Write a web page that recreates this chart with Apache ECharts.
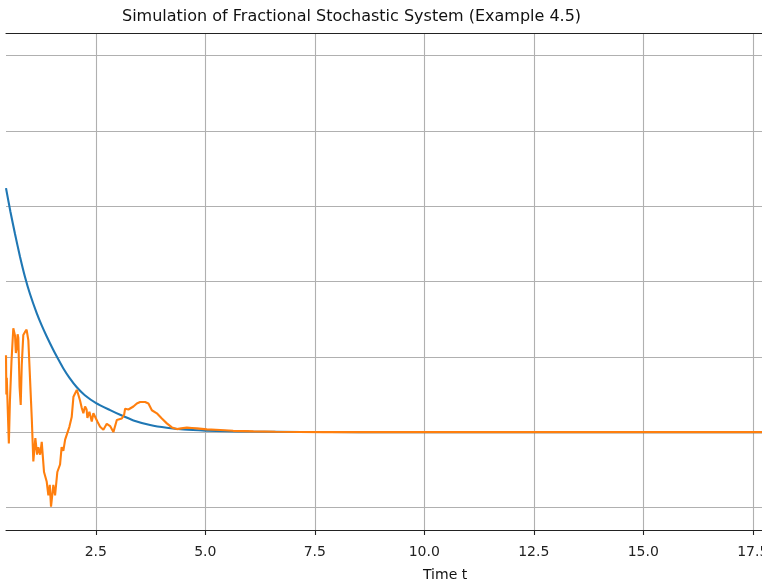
<!DOCTYPE html>
<html>
<head>
<meta charset="utf-8" />
<title>Simulation of Fractional Stochastic System</title>
<script src="https://cdn.jsdelivr.net/npm/echarts@6/dist/echarts.min.js"></script>
<style>
  html, body { margin: 0; padding: 0; background: #fff; overflow: hidden; }
  #chart { width: 762px; height: 588px; }
</style>
</head>
<body>
<div id="chart"></div>
<script>
// visible time window of the (cropped) figure and tick step
const xRange = [0.45, 17.71];
const xStep = 2.5;
const yRange = [-1.3, 5.3];

// deterministic solution [t, x(t)]
const detPath = [
  [0.45, 3.24], [0.55, 2.93], [0.656, 2.63], [0.77, 2.33], [0.884, 2.06],
  [1.0, 1.83], [1.151, 1.58], [1.27, 1.41], [1.38, 1.27], [1.531, 1.09],
  [1.65, 0.96], [1.76, 0.845], [1.9, 0.72], [2.066, 0.595], [2.25, 0.49],
  [2.507, 0.385], [2.827, 0.292], [3.055, 0.23], [3.36, 0.155], [3.74, 0.095],
  [4.12, 0.058], [4.5, 0.035], [5.0, 0.02], [5.5, 0.013], [6.0, 0.008],
  [7.2, 0.002], [8.5, 0], [20, 0]
];

// stochastic sample path [t, x(t)]
const stochPath = [
  [0.45, 1.02], [0.458, 0.5], [0.468, 0.72], [0.49, 0.3], [0.515, -0.15],
  [0.54, 0.42], [0.576, 0.95], [0.617, 1.38], [0.656, 1.28], [0.675, 1.05],
  [0.695, 1.12], [0.715, 1.3], [0.731, 1.25], [0.76, 0.6], [0.786, 0.36],
  [0.81, 0.9], [0.845, 1.29], [0.884, 1.33], [0.92, 1.36], [0.96, 1.22],
  [1.0, 0.69], [1.04, 0.16], [1.074, -0.39], [1.12, -0.08], [1.16, -0.3],
  [1.188, -0.2], [1.23, -0.3], [1.266, -0.13], [1.318, -0.53], [1.38, -0.66],
  [1.417, -0.84], [1.45, -0.7], [1.478, -0.99], [1.531, -0.7], [1.57, -0.84],
  [1.622, -0.53], [1.684, -0.43], [1.72, -0.2], [1.759, -0.25], [1.8, -0.1],
  [1.837, -0.08], [1.897, 0.07], [1.95, 0.2], [1.99, 0.47], [2.027, 0.49],
  [2.066, 0.56], [2.1, 0.5], [2.14, 0.42], [2.18, 0.32], [2.216, 0.25],
  [2.255, 0.34], [2.29, 0.3], [2.308, 0.19], [2.354, 0.27], [2.408, 0.14],
  [2.445, 0.25], [2.484, 0.27], [2.536, 0.14], [2.598, 0.07], [2.673, 0.03],
  [2.712, 0.05], [2.751, 0.11], [2.827, 0.08], [2.902, 0.0], [2.98, 0.16],
  [3.094, 0.18], [3.147, 0.23], [3.169, 0.31], [3.245, 0.3], [3.284, 0.29],
  [3.359, 0.34], [3.437, 0.38], [3.512, 0.4], [3.551, 0.39], [3.626, 0.4],
  [3.702, 0.38], [3.78, 0.29], [3.894, 0.25], [4.008, 0.18], [4.122, 0.116],
  [4.237, 0.062], [4.351, 0.04], [4.45, 0.05], [4.579, 0.06], [4.694, 0.055],
  [4.808, 0.049], [5.036, 0.036], [5.34, 0.027], [5.637, 0.017], [6.1, 0.01],
  [6.6, 0.004], [7.7, 0], [20, 0]
];

const chart = echarts.init(document.getElementById('chart'));
const font = 'DejaVu Sans';

const option = {
  animation: false,
  title: {
    text: 'Simulation of Fractional Stochastic System (Example 4.5)',
    left: 122,
    top: 9,
    padding: 0,
    textStyle: { fontFamily: font, fontSize: 16, fontWeight: 'normal', color: '#111' }
  },
  grid: { left: 6, right: 0, top: 33, bottom: 58, outerBoundsMode: 'none', containLabel: false },
  xAxis: [{
    type: 'value',
    min: xRange[0],
    max: xRange[1],
    minInterval: xStep,
    maxInterval: xStep,
    axisLine: { onZero: false, lineStyle: { color: '#222', width: 1.1 } },
    axisTick: { show: true, length: 5, lineStyle: { color: '#222', width: 1.1 } },
    axisLabel: {
      margin: 15,
      showMinLabel: false,
      showMaxLabel: false,
      hideOverlap: false,
      fontFamily: font, fontSize: 14, color: '#222',
      formatter: function (v) { return v.toFixed(1); }
    },
    splitLine: { show: true, showMinLine: false, showMaxLine: false, lineStyle: { color: '#b0b0b0', width: 1.1 } }
  }, {
    // top spine
    type: 'value',
    position: 'top',
    min: xRange[0],
    max: xRange[1],
    axisLine: { onZero: false, lineStyle: { color: '#222', width: 1.1 } },
    axisTick: { show: false },
    axisLabel: { show: false },
    splitLine: { show: false }
  }],
  yAxis: {
    type: 'value',
    min: yRange[0],
    max: yRange[1],
    minInterval: 1,
    maxInterval: 1,
    axisLine: { show: false },
    axisTick: { show: false },
    axisLabel: { show: false },
    splitLine: { show: true, showMinLine: false, showMaxLine: false, lineStyle: { color: '#b0b0b0', width: 1.1 } }
  },
  graphic: [{
    type: 'text',
    left: 423,
    top: 568,
    style: { text: 'Time t', x: 0, y: 0, align: 'center', fontFamily: font, fontSize: 14, fill: '#111' }
  }],
  series: [{
    name: 'Deterministic',
    type: 'line',
    data: detPath,
    showSymbol: false,
    smooth: 0.2,
    lineStyle: { color: '#1f77b4', width: 2.1 },
    itemStyle: { color: '#1f77b4' }
  }, {
    name: 'Stochastic',
    type: 'line',
    data: stochPath,
    showSymbol: false,
    lineStyle: { color: '#ff7f0e', width: 2.1 },
    itemStyle: { color: '#ff7f0e' }
  }]
};

chart.setOption(option);
</script>
</body>
</html>
